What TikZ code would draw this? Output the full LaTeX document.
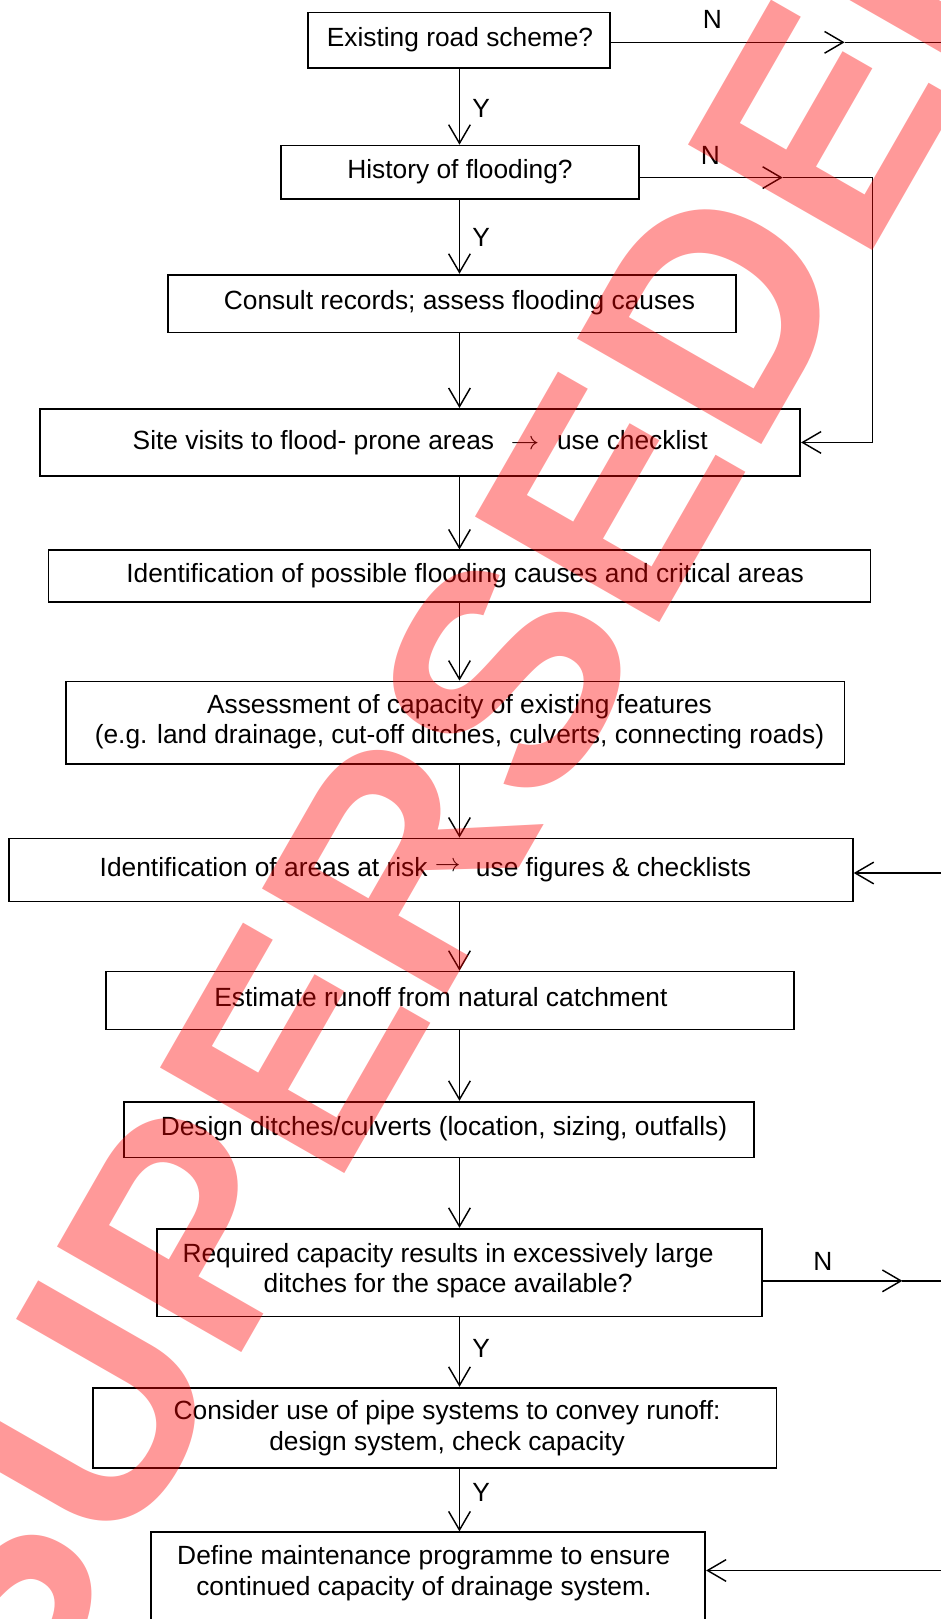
\documentclass[tikz,border=0pt]{standalone}
\usepackage{fontspec}
\usepackage{graphicx}
\setmainfont{Liberation Sans}
\usetikzlibrary{arrows.meta}
\newcommand{\txtarrow}{\scalebox{1.12}[1]{$\rightarrow$}}
\begin{document}
\begin{tikzpicture}[x=1pt,y=1pt,
  frame/.style={draw=black, line width=1.7pt, inner sep=0pt},
  txt/.style={font=\fontsize{25.5}{29.5}\selectfont, inner sep=0pt, align=center},
  lab/.style={font=\fontsize{25.5}{29.5}\selectfont, inner sep=0pt},
  conn/.style={draw=black, line width=1.4pt},
  arr/.style={conn, -{Straight Barb[length=18pt,width=21pt]}},
  wmark/.style={font=\fontsize{299}{310}\selectfont\bfseries, text=red, opacity=0.4, rotate=60.2, inner sep=0pt}
]
\fill[white] (0,0) rectangle (911,-1568);
\useasboundingbox (0,0) rectangle (911,-1568);

% frames
\node[frame, minimum width=293pt, minimum height=54pt] (B1) at (444.5,-39) {};
\node[frame, minimum width=347pt, minimum height=52pt] (B2) at (445.5,-167) {};
\node[frame, minimum width=550pt, minimum height=56pt] (B3) at (438,-294) {};
\node[frame, minimum width=736pt, minimum height=65pt] (B4) at (407,-428.5) {};
\node[frame, minimum width=796pt, minimum height=50pt] (B5) at (445,-558) {};
\node[frame, minimum width=754pt, minimum height=80pt] (B6) at (441,-700) {};
\node[frame, minimum width=817pt, minimum height=61pt] (B7) at (417.5,-842.5) {};
\node[frame, minimum width=666pt, minimum height=56pt] (B8) at (436,-969) {};
\node[frame, minimum width=610pt, minimum height=54pt] (B9) at (425,-1094) {};
\node[frame, minimum width=586pt, minimum height=85pt] (B10) at (445,-1232.5) {};
\node[frame, minimum width=662pt, minimum height=78pt] (B11) at (421,-1383) {};
\node[frame, minimum width=537pt, minimum height=156pt] (B12) at (414.5,-1562) {};

% texts
\node[txt] (T1) at (445.5,-39) {\strut Existing road scheme?};
\node[txt] (T2) at (445.5,-167) {\strut History of flooding?};
\node[txt] (T3) at (445,-294) {\strut Consult records; assess flooding causes};
\node[txt] (T4) at (407,-429.5) {\strut Site visits to flood- prone areas\hspace{16pt}\txtarrow\hspace{17pt}use checklist};
\node[txt] (T5) at (450.5,-558) {\strut Identification of possible flooding causes and critical areas};
\node[txt] (T6) at (445,-699.5) {\strut Assessment of capacity of existing features\\\strut (e.g. land drainage, cut-off ditches, culverts, connecting roads)};
\node[txt] (T7) at (412,-842.5) {\strut Identification of areas at risk\hspace{7pt}\raisebox{4pt}{$\rightarrow$}\hspace{15pt}use figures \& checklists};
\node[txt] (T8) at (427,-969) {\strut Estimate runoff from natural catchment};
\node[txt] (T9) at (430,-1094) {\strut Design ditches/culverts (location, sizing, outfalls)};
\node[txt] (T10) at (434,-1231.5) {\strut Required capacity results in excessively large\\\strut ditches for the space available?};
\node[txt] (T11) at (433,-1384) {\strut Consider use of pipe systems to convey runoff:\\\strut design system, check capacity};
\node[txt] (T12) at (410.5,-1524.5) {\strut Define maintenance programme to ensure\\\strut continued capacity of drainage system.};

% labels
\node[lab] (Y1) at (466,-105) {Y};
\node[lab] (Y2) at (466,-230) {Y};
\node[lab] (Y3) at (466,-1306) {Y};
\node[lab] (Y4) at (466,-1445) {Y};
\node[lab] (N1) at (690,-18.5) {N};
\node[lab] (N2) at (688,-151) {N};
\node[lab] (N3) at (797,-1222) {N};

% spine
\coordinate (sp) at (445,0);
\draw[arr] (B1.south -| sp) -- (B2.north -| sp);
\draw[arr] (B2.south -| sp) -- (B3.north -| sp);
\draw[arr] (B3.south -| sp) -- (B4.north -| sp);
\draw[arr] (B4.south -| sp) -- (B5.north -| sp);
\draw[arr] (B5.south -| sp) -- (B6.north -| sp);
\draw[arr] (B6.south -| sp) -- (B7.north -| sp);
\draw[arr] (B7.south -| sp) -- (B8.north -| sp);
\draw[arr] (B8.south -| sp) -- (B9.north -| sp);
\draw[arr] (B9.south -| sp) -- (B10.north -| sp);
\draw[arr] (B10.south -| sp) -- (B11.north -| sp);
\draw[arr] (B11.south -| sp) -- (B12.north -| sp);

% N branch from B1
\coordinate (n1m) at (818,-41);
\coordinate (n1e) at (925,-41);
\draw[arr] (B1.east |- n1m) -- (n1m);
\draw[conn] (n1m) -- (n1e);

% N branch from B2 looping to B4
\coordinate (n2m) at (758,-172);
\coordinate (n2c) at (845,-172);
\draw[arr] (B2.east |- n2m) -- (n2m);
\draw[arr] (n2m) -- (n2c) |- (B4.east);

% incoming to B7
\coordinate (n7e) at (925,-845.5);
\draw[arr] (n7e) -- (n7e -| B7.east);

% N branch from B10
\coordinate (n10m) at (874,-1240.5);
\coordinate (n10e) at (925,-1240.5);
\draw[arr] (B10.east |- n10m) -- (n10m);
\draw[conn] (n10m) -- (n10e);

% incoming to B12
\coordinate (n12e) at (925,-1521);
\draw[arr] (n12e) -- (n12e -| B12.east);

% watermark
\node[wmark] (wm) at (440.8,-742.5) {SUPERSEDED};
\end{tikzpicture}
\end{document}
